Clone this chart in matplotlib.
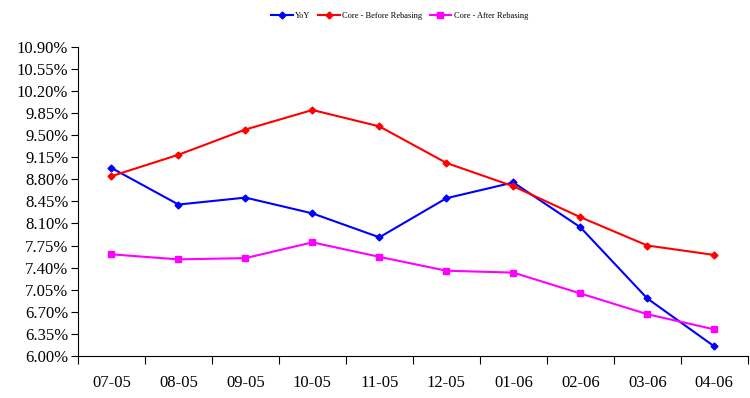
import numpy as np
import matplotlib
matplotlib.use("Agg")
import matplotlib.pyplot as plt
from matplotlib.ticker import FuncFormatter

plt.rcParams['font.family'] = ['Liberation Serif', 'DejaVu Serif']

# data
months = ['07-05', '08-05', '09-05', '10-05', '11-05', '12-05', '01-06', '02-06', '03-06', '04-06']
yoy = [8.98, 8.40, 8.51, 8.26, 7.88, 8.50, 8.75, 8.04, 6.91, 6.15]
core_before = [8.85, 9.19, 9.59, 9.90, 9.64, 9.06, 8.69, 8.20, 7.75, 7.60]
core_after = [7.61, 7.53, 7.55, 7.80, 7.57, 7.35, 7.32, 6.99, 6.66, 6.42]
y_ticks = np.arange(6.00, 10.91, 0.35)

fig = plt.figure(figsize=(7.5, 3.98), dpi=100)
ax = fig.add_axes([0.104, 0.106, 0.893, 0.776])

x = np.arange(len(months))
ax.plot(x, yoy, color='#0000ff', marker='D', markersize=3.5, linewidth=1.5, label='YoY')
ax.plot(x, core_before, color='#ff0000', marker='D', markersize=3.5, linewidth=1.5, label='Core - Before Rebasing')
ax.plot(x, core_after, color='#ff00ff', marker='s', markersize=4.5, linewidth=1.5, label='Core - After Rebasing')

ax.set_xlim(-0.5, len(months) - 0.5)
ax.set_ylim(6.00, 10.90)
ax.set_yticks(y_ticks)
ax.yaxis.set_major_formatter(FuncFormatter(lambda v, p: '%.2f%%' % v))

# labels at the centres, ticks at the boundaries
ax.set_xticks(x)
ax.set_xticklabels(months)
ax.set_xticks(np.arange(-0.5, len(months), 1), minor=True)
ax.tick_params(axis='x', which='major', length=0, pad=14, labelsize=12)
ax.tick_params(axis='x', which='minor', length=6, width=0.8, direction='out')
ax.tick_params(axis='y', length=5, width=0.8, direction='out', labelsize=12, pad=2)

for s in ['top', 'right']:
    ax.spines[s].set_visible(False)
for s in ['left', 'bottom']:
    ax.spines[s].set_linewidth(0.8)

ax.legend(loc='upper center', bbox_to_anchor=(0.48, 1.112), ncol=3, frameon=False,
          fontsize=6, handlelength=2.6, columnspacing=0.9, handletextpad=0.3,
          borderaxespad=0, borderpad=0)

plt.savefig('out.png', dpi=100)
